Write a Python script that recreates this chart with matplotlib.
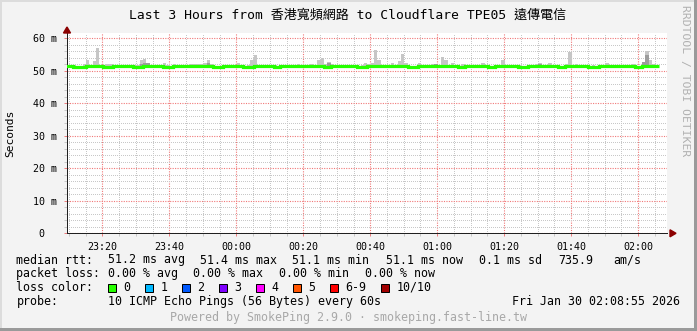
import numpy as np
import matplotlib.pyplot as plt
from matplotlib.patches import Rectangle, Polygon
from matplotlib.ticker import MultipleLocator

plt.rcParams['font.family'] = ['DejaVu Sans Mono', 'Noto Sans CJK TC']

# --- data: one bin per minute, minutes counted from 23:00 ---
T0 = 9.15
median = [
    51.3, 51.3, 51.1, 51.1, 51.1, 51.1, 51.3, 51.3, 51.3, 51.3,
    51.3, 51.1, 51.1, 51.1, 51.3, 51.3, 51.3, 51.3, 51.3, 51.3,
    51.1, 51.1, 51.1, 51.3, 51.3, 51.3, 51.3, 51.3, 51.3, 51.1,
    51.1, 51.1, 51.3, 51.3, 51.3, 51.3, 51.3, 51.3, 51.3, 51.3,
    51.3, 51.3, 51.3, 51.3, 51.1, 51.1, 51.1, 51.3, 51.3, 51.3,
    51.3, 51.3, 51.3, 51.1, 51.1, 51.1, 51.3, 51.3, 51.3, 51.3,
    51.3, 51.3, 51.1, 51.1, 51.3, 51.3, 51.3, 51.3, 51.3, 51.3,
    51.3, 51.3, 51.3, 51.3, 51.3, 51.3, 51.3, 51.1, 51.1, 51.3,
    51.3, 51.3, 51.3, 51.3, 51.3, 51.3, 51.3, 51.1, 51.1, 51.1,
    51.3, 51.3, 51.3, 51.3, 51.3, 51.3, 51.3, 51.3, 51.3, 51.3,
    51.3, 51.3, 51.1, 51.1, 51.1, 51.3, 51.3, 51.3, 51.3, 51.3,
    51.3, 51.3, 51.3, 51.3, 51.3, 51.3, 51.3, 51.1, 51.1, 51.3,
    51.3, 51.3, 51.3, 51.3, 51.3, 51.3, 51.1, 51.1, 51.3, 51.3,
    51.3, 51.3, 51.3, 51.3, 51.3, 51.1, 51.1, 51.1, 51.3, 51.3,
    51.3, 51.3, 51.3, 51.3, 51.3, 51.3, 51.3, 51.1, 51.1, 51.3,
    51.3, 51.3, 51.3, 51.3, 51.3, 51.3, 51.1, 51.1, 51.1, 51.3,
    51.3, 51.3, 51.3, 51.3, 51.3, 51.3, 51.3, 51.3, 51.3, 51.3,
    51.1, 51.1, 51.3, 51.4, 51.3, 51.3, 51.3,
]
smoke_top = [
    51.6, 51.6, 51.7, 51.6, 51.6, 52.2, 53.4, 51.7, 53.0, 57.1,
    51.6, 51.7, 52.2, 52.2, 51.6, 51.5, 51.6, 51.6, 51.5, 51.6,
    51.8, 51.7, 53.2, 53.7, 52.2, 51.6, 51.6, 51.6, 51.9, 52.4,
    51.7, 51.6, 52.0, 51.6, 51.6, 51.6, 51.7, 52.0, 52.1, 52.2,
    52.1, 52.3, 53.4, 52.2, 51.6, 51.6, 51.6, 51.6, 51.8, 51.6,
    51.9, 52.5, 51.6, 51.6, 51.7, 53.3, 54.9, 51.7, 51.6, 51.6,
    51.8, 51.8, 51.7, 51.6, 51.6, 51.6, 51.6, 51.6, 51.7, 52.0,
    51.6, 51.6, 51.6, 52.0, 51.6, 53.4, 53.8, 52.2, 52.6, 52.0,
    51.6, 51.6, 51.9, 51.6, 51.6, 51.6, 51.6, 51.6, 51.8, 52.3,
    52.1, 52.4, 56.5, 53.2, 51.6, 51.6, 51.6, 52.3, 51.6, 53.1,
    55.0, 52.4, 51.6, 51.6, 51.6, 52.3, 51.6, 51.6, 51.6, 52.0,
    52.2, 51.8, 54.3, 53.2, 51.7, 52.3, 51.6, 51.6, 52.1, 51.9,
    51.7, 51.6, 51.6, 51.6, 52.4, 51.6, 51.6, 51.6, 51.6, 51.8,
    53.3, 51.6, 51.6, 51.6, 51.7, 51.7, 51.6, 51.6, 51.6, 51.6,
    52.0, 52.3, 51.8, 51.6, 52.3, 51.8, 51.6, 51.6, 51.6, 52.0,
    55.9, 51.9, 52.1, 51.6, 51.6, 51.6, 51.6, 51.8, 51.6, 51.6,
    51.6, 52.3, 51.7, 51.6, 51.6, 51.6, 51.6, 51.6, 51.8, 52.2,
    51.6, 51.6, 52.8, 56.1, 53.2, 52.2, 51.7,
]
# darker inner smoke for a few bins
dark_idx = [22, 23, 24, 42, 78, 82, 109, 110, 141, 172, 173]
dark_top = [52.0, 52.4, 52.4, 52.3, 52.3, 51.9, 51.9, 52.0, 52.0, 52.6, 54.8]

major_ticks = [20, 40, 60, 80, 100, 120, 140, 160, 180]
major_labels = ['23:20', '23:40', '00:00', '00:20', '00:40', '01:00', '01:20', '01:40', '02:00']
y_ticks = [0, 10, 20, 30, 40, 50, 60]
y_labels = ['0  ', '10 m', '20 m', '30 m', '40 m', '50 m', '60 m']

title = 'Last 3 Hours from 香港寬頻網路 to Cloudflare TPE05 遠傳電信'

loss_labels = ['0', '1', '2', '3', '4', '5', '6-9', '10/10']
loss_colors = ['#26ff00', '#00b8ff', '#0059ff', '#7e00ff', '#ff00ff', '#ff5500', '#ff0000', '#a10000']

W, H = 697, 331


def fx(x):
    return x / W


def fy(y):
    return 1 - y / H


fig = plt.figure(figsize=(W / 100, H / 100), dpi=100, facecolor='#f3f3f3')
ax = fig.add_axes([fx(67), fy(233.3), 600 / W, (233.3 - 33) / H])
ax.set_facecolor('white')

t = T0 + np.arange(len(median))
med = np.array(median)
top = np.array(smoke_top)
ax.bar(t, top - med, bottom=med, width=1.0, align='edge', color='#c6c6c6', linewidth=0, zorder=2)
di = np.array(dark_idx)
ax.bar(t[di], np.array(dark_top) - med[di], bottom=med[di], width=1.0, align='edge',
       color='#9c9c9c', linewidth=0, zorder=2)
edges = np.append(t, t[-1] + 1)
ax.stairs(med, edges, baseline=None, color='#26ff00', linewidth=2.3, zorder=3)

ax.set_xlim(9.46, 188.6)
ax.set_ylim(0, 61.6)
ax.set_xticks(major_ticks)
ax.set_xticklabels(major_labels)
ax.xaxis.set_minor_locator(MultipleLocator(5))
ax.set_yticks(y_ticks)
ax.set_yticklabels(y_labels)
ax.yaxis.set_minor_locator(MultipleLocator(2))
ax.set_axisbelow(True)
ax.grid(which='minor', color='#c8c8c8', linewidth=0.72, linestyle=(0, (1, 1.5)), antialiased=False)
ax.grid(which='major', color='#f07878', linewidth=0.8, linestyle=(0, (1, 1.2)))
ax.tick_params(which='both', direction='out', length=2, width=0.72, labelsize=7.2, colors='black')
ax.tick_params(axis='x', which='major', pad=4, color='#ee8080')
ax.tick_params(axis='y', which='major', pad=5, color='#ee8080')
ax.tick_params(which='minor', color='#c8c8c8')
for s in ['top', 'right']:
    ax.spines[s].set_visible(False)
for s in ['left', 'bottom']:
    ax.spines[s].set_color('#202020')
    ax.spines[s].set_linewidth(0.72)

# axis arrows
fig.add_artist(Polygon([[fx(67), fy(27)], [fx(63.5), fy(33)], [fx(70.5), fy(33)]],
                       closed=True, color='#8b0000', transform=fig.transFigure))
fig.add_artist(Polygon([[fx(676), fy(233.3)], [fx(670), fy(229.8)], [fx(670), fy(236.8)]],
                       closed=True, color='#8b0000', transform=fig.transFigure))

fig.text(fx(348), fy(15), title, ha='center', va='center', fontsize=9.4)
fig.text(fx(10), fy(133), 'Seconds', rotation=90, ha='center', va='center', fontsize=8.1)
fig.text(fx(685), fy(81), 'RRDTOOL / TOBI OETIKER', rotation=270, ha='center', va='center',
         fontsize=8.2, color='#b0b0b0')

lg = 8.4
row1 = [(16.4, 'median rtt:'), (107.6, '51.2 ms avg'), (200, '51.4 ms max'), (292.4, '51.1 ms min'),
        (385.8, '51.1 ms now'), (479, '0.1 ms sd'), (557.8, '735.9'), (613.3, 'am/s')]
row2 = [(16.4, 'packet loss:'), (107.6, '0.00 % avg'), (193.3, '0.00 % max'), (279, '0.00 % min'),
        (365.3, '0.00 % now')]
for x, s in row1:
    fig.text(fx(x), fy(260), s, ha='left', va='center', fontsize=lg)
for x, s in row2:
    fig.text(fx(x), fy(273.5), s, ha='left', va='center', fontsize=lg)
fig.text(fx(16.4), fy(287.5), 'loss color:', ha='left', va='center', fontsize=lg)
box_x = [108, 145.3, 182.2, 219, 256.4, 293.3, 330.2, 381.3]
for bx, lab, col in zip(box_x, loss_labels, loss_colors):
    fig.add_artist(Rectangle((fx(bx), fy(291.5)), 8 / W, 8 / H, facecolor=col, edgecolor='black',
                             linewidth=0.72, transform=fig.transFigure))
    fig.text(fx(bx + 15), fy(287.5), lab, ha='left', va='center', fontsize=lg)
fig.text(fx(16.4), fy(301.5), 'probe:', ha='left', va='center', fontsize=lg)
fig.text(fx(107.6), fy(301.5), '10 ICMP Echo Pings (56 Bytes) every 60s', ha='left', va='center', fontsize=lg)
fig.text(fx(680), fy(301.5), 'Fri Jan 30 02:08:55 2026', ha='right', va='center', fontsize=lg)
fig.text(fx(348.4), fy(318), 'Powered by SmokePing 2.9.0 · smokeping.fast-line.tw', ha='center', va='center',
         fontsize=lg, color='#a8a8a8')

# frame shading
fig.add_artist(Rectangle((fx(694), 0), 3 / W, 1, facecolor='#9a9a9a', linewidth=0, transform=fig.transFigure))
fig.add_artist(Rectangle((0, 0), 1, 3 / H, facecolor='#9a9a9a', linewidth=0, transform=fig.transFigure))
fig.add_artist(Rectangle((0, fy(2)), fx(694), 2 / H, facecolor='#dcdcdc', linewidth=0, transform=fig.transFigure))
fig.add_artist(Rectangle((0, 3 / H), 2 / W, 1, facecolor='#dcdcdc', linewidth=0, transform=fig.transFigure))

fig.savefig('out.png', dpi=100, facecolor=fig.get_facecolor())
